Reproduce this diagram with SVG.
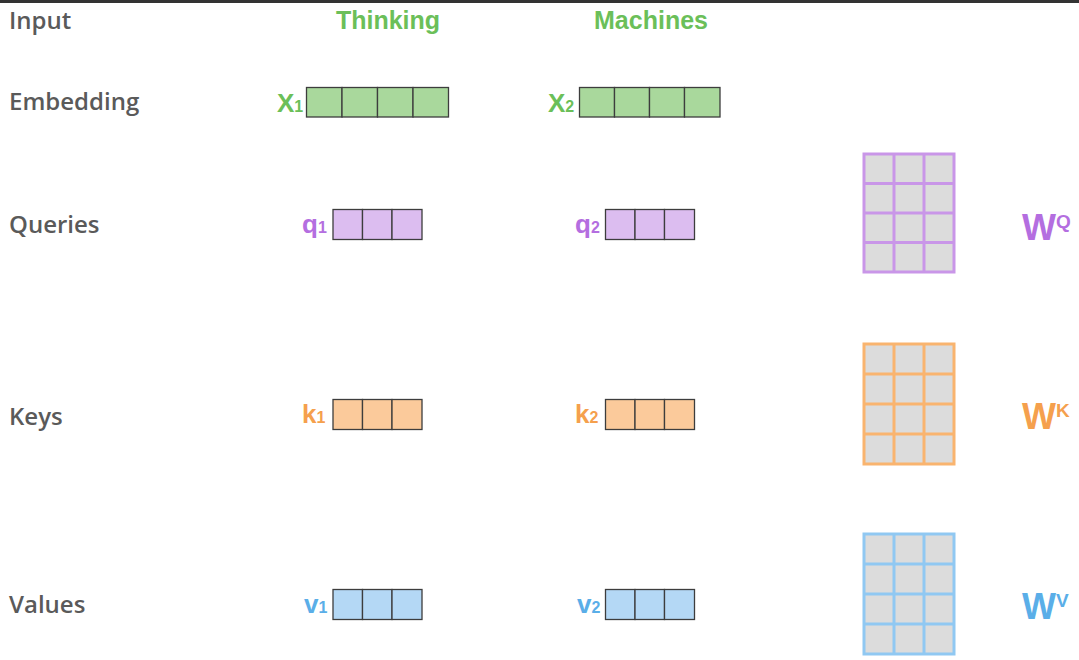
<svg xmlns="http://www.w3.org/2000/svg" width="1079" height="660" viewBox="0 0 1079 660">
<style>
.lbl{font-family:"Open Sans","Noto Sans",sans-serif;font-size:24px;fill:#5a5a5a;font-weight:600}
.word{font-family:"Liberation Sans",Arial,sans-serif;font-size:25px;font-weight:bold;fill:#6bbf59}
.sym{font-family:"Liberation Sans",Arial,sans-serif;font-weight:bold}
.cell{stroke:#3d3d3d;stroke-width:1.3}
.g{fill:#a9d89c}.p{fill:#dcbdf0}.o{fill:#fbca9b}.b{fill:#b4d8f5}
.tg{fill:#6bbf59}.tp{fill:#b46ee0}.to{fill:#f5a04d}.tb{fill:#5aaee8}
.mat{fill:#dcdcdc;stroke-width:3}
</style>
<rect x="0" y="0" width="1079" height="660" fill="#fff"/>
<rect x="0" y="0" width="1079" height="3" fill="#333"/>
<g id="row-labels">
<text class="lbl" x="9" y="29">Input</text>
<text class="lbl" x="9" y="110">Embedding</text>
<text class="lbl" x="9" y="233">Queries</text>
<text class="lbl" x="9" y="425">Keys</text>
<text class="lbl" x="9" y="613">Values</text>
</g>
<g id="words">
<text class="word" x="388" y="29" text-anchor="middle">Thinking</text>
<text class="word" x="651" y="29" text-anchor="middle">Machines</text>
</g>
<g id="x1">
<text class="sym tg" x="277" y="112" font-size="26">X<tspan font-size="16">1</tspan></text>
<rect class="cell g" x="306.5" y="87.5" width="35.5" height="29.5"/>
<rect class="cell g" x="342" y="87.5" width="35.5" height="29.5"/>
<rect class="cell g" x="377.5" y="87.5" width="35.5" height="29.5"/>
<rect class="cell g" x="413" y="87.5" width="35.5" height="29.5"/>
</g>
<g id="x2">
<text class="sym tg" x="548" y="112" font-size="26">X<tspan font-size="16">2</tspan></text>
<rect class="cell g" x="579.5" y="87.5" width="35" height="29.5"/>
<rect class="cell g" x="614.5" y="87.5" width="35" height="29.5"/>
<rect class="cell g" x="649.5" y="87.5" width="35" height="29.5"/>
<rect class="cell g" x="684.5" y="87.5" width="35.5" height="29.5"/>
</g>
<g id="q1">
<text class="sym tp" x="302" y="233" font-size="26">q<tspan font-size="16">1</tspan></text>
<rect class="cell p" x="333" y="209.5" width="29.5" height="30"/>
<rect class="cell p" x="362.5" y="209.5" width="29.5" height="30"/>
<rect class="cell p" x="392" y="209.5" width="30" height="30"/>
</g>
<g id="q2">
<text class="sym tp" x="575" y="233" font-size="26">q<tspan font-size="16">2</tspan></text>
<rect class="cell p" x="605.5" y="209.5" width="29.5" height="30"/>
<rect class="cell p" x="635" y="209.5" width="29.5" height="30"/>
<rect class="cell p" x="664.5" y="209.5" width="30" height="30"/>
</g>
<g id="k1">
<text class="sym to" x="302" y="423" font-size="26">k<tspan font-size="16">1</tspan></text>
<rect class="cell o" x="333" y="399.5" width="29.5" height="30"/>
<rect class="cell o" x="362.5" y="399.5" width="29.5" height="30"/>
<rect class="cell o" x="392" y="399.5" width="30" height="30"/>
</g>
<g id="k2">
<text class="sym to" x="575" y="423" font-size="26">k<tspan font-size="16">2</tspan></text>
<rect class="cell o" x="605.5" y="399.5" width="29.5" height="30"/>
<rect class="cell o" x="635" y="399.5" width="29.5" height="30"/>
<rect class="cell o" x="664.5" y="399.5" width="30" height="30"/>
</g>
<g id="v1">
<text class="sym tb" x="304" y="613" font-size="26">v<tspan font-size="16">1</tspan></text>
<rect class="cell b" x="333" y="589.5" width="29.5" height="30"/>
<rect class="cell b" x="362.5" y="589.5" width="29.5" height="30"/>
<rect class="cell b" x="392" y="589.5" width="30" height="30"/>
</g>
<g id="v2">
<text class="sym tb" x="577" y="613" font-size="26">v<tspan font-size="16">2</tspan></text>
<rect class="cell b" x="605.5" y="589.5" width="29.5" height="30"/>
<rect class="cell b" x="635" y="589.5" width="29.5" height="30"/>
<rect class="cell b" x="664.5" y="589.5" width="30" height="30"/>
</g>
<g id="wq" stroke="#c996e8">
<rect class="mat" x="864" y="154" width="90" height="118"/>
<path d="M894 154V272M924 154V272M864 183.5H954M864 213H954M864 242.5H954" stroke-width="3" fill="none"/>
<text class="sym tp" stroke="none" x="1022" y="240" font-size="36">W<tspan font-size="19" dy="-12">Q</tspan></text>
</g>
<g id="wk" stroke="#f9b46f">
<rect class="mat" x="864" y="344" width="90" height="120"/>
<path d="M894 344V464M924 344V464M864 374H954M864 404H954M864 434H954" stroke-width="3" fill="none"/>
<text class="sym to" stroke="none" x="1022" y="429" font-size="36">W<tspan font-size="19" dy="-12">K</tspan></text>
</g>
<g id="wv" stroke="#90c8f2">
<rect class="mat" x="864" y="534" width="90" height="120"/>
<path d="M894 534V654M924 534V654M864 564H954M864 594H954M864 624H954" stroke-width="3" fill="none"/>
<text class="sym tb" stroke="none" x="1022" y="619" font-size="36">W<tspan font-size="19" dy="-12">V</tspan></text>
</g>
<g id="connectors"></g>
</svg>
